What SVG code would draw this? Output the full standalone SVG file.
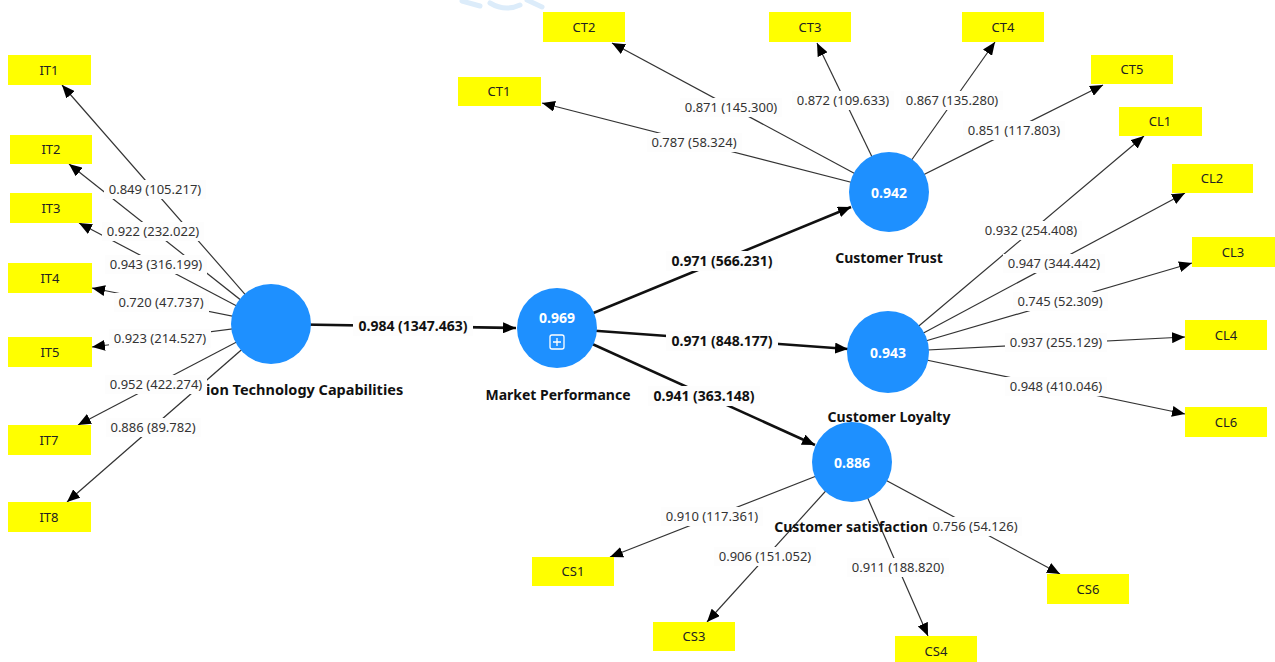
<svg xmlns="http://www.w3.org/2000/svg" width="1275" height="662" viewBox="0 0 1275 662">
  <style>
    .ind rect { fill: #ffff00; }
    .ind text { font-family: "Noto Sans", "Liberation Sans", sans-serif; font-size: 13px; fill: #222; text-anchor: middle; }
    .lv circle { fill: #1e90ff; }
    .val { font-family: "Noto Sans", "Liberation Sans", sans-serif; font-size: 14px; font-weight: bold; fill: #ffffff; text-anchor: middle; }
    .name { font-family: "Noto Sans", "Liberation Sans", sans-serif; font-size: 14px; font-weight: bold; fill: #111; text-anchor: middle; }
    .load { stroke: #333; stroke-width: 1.2; fill: none; marker-end: url(#ah); }
    .path { stroke: #111; stroke-width: 2.6; fill: none; marker-end: url(#ah); }
    .lbl rect { fill: #fdfdfd; }
    .lbl text { font-family: "Noto Sans", "Liberation Sans", sans-serif; font-size: 13px; fill: #333; text-anchor: middle; }
    .lbl text.b { font-size: 14px; font-weight: bold; fill: #111; }
  </style>
  <defs>
    <marker id="ah" markerUnits="userSpaceOnUse" markerWidth="13" markerHeight="11" refX="13" refY="5.5" orient="auto">
      <path d="M0,0 L13,5.5 L0,11 z" fill="#000"/>
    </marker>
  </defs>

  <rect width="1275" height="662" fill="#ffffff"/>

  <!-- faint watermark strokes along the top edge -->
  <path d="M462,1 L480,6 M490,3 Q505,12 520,5 M527,0 L542,7" stroke="#dcecfa" stroke-width="5" fill="none" stroke-linecap="round"/>

  <!-- connectors: drawn from construct centres, circles are painted over them -->
  <g id="connectors">
    <!-- outer loadings: Information Technology Capabilities -->
    <line class="load" x1="271" y1="324" x2="62" y2="85"/>
    <line class="load" x1="271" y1="324" x2="69" y2="164"/>
    <line class="load" x1="271" y1="324" x2="79" y2="223"/>
    <line class="load" x1="271" y1="324" x2="92" y2="288"/>
    <line class="load" x1="271" y1="324" x2="92" y2="347"/>
    <line class="load" x1="271" y1="324" x2="78" y2="425"/>
    <line class="load" x1="271" y1="324" x2="67" y2="502"/>
    <!-- outer loadings: Customer Trust -->
    <line class="load" x1="889" y1="192" x2="542" y2="103"/>
    <line class="load" x1="889" y1="192" x2="612" y2="43"/>
    <line class="load" x1="889" y1="192" x2="817" y2="43"/>
    <line class="load" x1="889" y1="192" x2="995" y2="42"/>
    <line class="load" x1="889" y1="192" x2="1103" y2="85"/>
    <!-- outer loadings: Customer Loyalty -->
    <line class="load" x1="888" y1="352" x2="1144" y2="136"/>
    <line class="load" x1="888" y1="352" x2="1185" y2="193"/>
    <line class="load" x1="888" y1="352" x2="1192" y2="263"/>
    <line class="load" x1="888" y1="352" x2="1185" y2="337"/>
    <line class="load" x1="888" y1="352" x2="1185" y2="414"/>
    <!-- outer loadings: Customer satisfaction -->
    <line class="load" x1="852" y1="462" x2="610" y2="557"/>
    <line class="load" x1="852" y1="462" x2="707" y2="622"/>
    <line class="load" x1="852" y1="462" x2="928" y2="636"/>
    <line class="load" x1="852" y1="462" x2="1060" y2="574"/>
    <!-- structural paths -->
    <line class="path" x1="271" y1="324" x2="516" y2="328"/>
    <line class="path" x1="557" y1="328" x2="851" y2="207"/>
    <line class="path" x1="557" y1="328" x2="848" y2="349"/>
    <line class="path" x1="557" y1="328" x2="815" y2="445"/>
  </g>

  <!-- constructs -->
  <g id="it-capabilities" class="lv">
    <circle cx="271" cy="324" r="40"/>
    <text class="name" x="206" y="395" style="text-anchor:start;font-size:14.5px">ion Technology Capabilities</text>
  </g>
  <g id="market-performance" class="lv">
    <circle cx="557" cy="328" r="40"/>
    <text class="val" x="557" y="323">0.969</text>
    <rect x="550" y="335" width="14" height="14" rx="2" fill="none" stroke="#ffffff" stroke-width="1.3"/>
    <path d="M557,338 V346 M553,342 H561" stroke="#ffffff" stroke-width="1.3"/>
    <text class="name" x="558" y="400">Market Performance</text>
  </g>
  <g id="customer-trust" class="lv">
    <circle cx="889" cy="192" r="40"/>
    <text class="val" x="889" y="198">0.942</text>
    <text class="name" x="889" y="263">Customer Trust</text>
  </g>
  <g id="customer-loyalty" class="lv">
    <circle cx="888" cy="352" r="41"/>
    <text class="val" x="888" y="358">0.943</text>
    <text class="name" x="889" y="422">Customer Loyalty</text>
  </g>
  <g id="customer-satisfaction" class="lv">
    <circle cx="852" cy="462" r="40"/>
    <text class="val" x="852" y="468">0.886</text>
    <text class="name" x="851" y="532">Customer satisfaction</text>
  </g>

  <!-- indicators -->
  <g id="IT1" class="ind"><rect x="8" y="55" width="83" height="30"/><text x="49" y="75">IT1</text></g>
  <g id="IT2" class="ind"><rect x="10" y="135" width="82" height="29"/><text x="51" y="154">IT2</text></g>
  <g id="IT3" class="ind"><rect x="10" y="193" width="82" height="30"/><text x="51" y="213">IT3</text></g>
  <g id="IT4" class="ind"><rect x="8" y="263" width="84" height="30"/><text x="50" y="283">IT4</text></g>
  <g id="IT5" class="ind"><rect x="8" y="337" width="84" height="30"/><text x="50" y="357">IT5</text></g>
  <g id="IT7" class="ind"><rect x="8" y="425" width="83" height="30"/><text x="49" y="445">IT7</text></g>
  <g id="IT8" class="ind"><rect x="8" y="502" width="83" height="30"/><text x="49" y="522">IT8</text></g>

  <g id="CT1" class="ind"><rect x="458" y="77" width="83" height="29"/><text x="499" y="96">CT1</text></g>
  <g id="CT2" class="ind"><rect x="543" y="12" width="82" height="30"/><text x="584" y="32">CT2</text></g>
  <g id="CT3" class="ind"><rect x="769" y="12" width="82" height="30"/><text x="810" y="32">CT3</text></g>
  <g id="CT4" class="ind"><rect x="962" y="12" width="82" height="30"/><text x="1003" y="32">CT4</text></g>
  <g id="CT5" class="ind"><rect x="1091" y="55" width="82" height="29"/><text x="1132" y="74">CT5</text></g>

  <g id="CL1" class="ind"><rect x="1119" y="107" width="83" height="29"/><text x="1160" y="126">CL1</text></g>
  <g id="CL2" class="ind"><rect x="1172" y="164" width="81" height="29"/><text x="1212" y="183">CL2</text></g>
  <g id="CL3" class="ind"><rect x="1192" y="237" width="83" height="30"/><text x="1233" y="257">CL3</text></g>
  <g id="CL4" class="ind"><rect x="1185" y="320" width="82" height="30"/><text x="1226" y="340">CL4</text></g>
  <g id="CL6" class="ind"><rect x="1185" y="407" width="82" height="30"/><text x="1226" y="427">CL6</text></g>

  <g id="CS1" class="ind"><rect x="532" y="557" width="82" height="29"/><text x="573" y="576">CS1</text></g>
  <g id="CS3" class="ind"><rect x="653" y="622" width="82" height="29"/><text x="694" y="641">CS3</text></g>
  <g id="CS4" class="ind"><rect x="895" y="636" width="82" height="30"/><text x="936" y="656">CS4</text></g>
  <g id="CS6" class="ind"><rect x="1047" y="574" width="82" height="30"/><text x="1088" y="594">CS6</text></g>

  <!-- coefficient labels -->
  <g id="edge-labels" class="lbl">
    <rect x="104" y="180" width="102" height="19"/><text x="155" y="194">0.849 (105.217)</text>
    <rect x="102" y="222" width="102" height="19"/><text x="153" y="236">0.922 (232.022)</text>
    <rect x="105" y="255" width="102" height="19"/><text x="156" y="269">0.943 (316.199)</text>
    <rect x="114" y="293" width="95" height="19"/><text x="161" y="307">0.720 (47.737)</text>
    <rect x="109" y="329" width="102" height="19"/><text x="160" y="343">0.923 (214.527)</text>
    <rect x="105" y="375" width="102" height="19"/><text x="156" y="389">0.952 (422.274)</text>
    <rect x="106" y="418" width="95" height="19"/><text x="153" y="432">0.886 (89.782)</text>

    <rect x="353" y="316" width="120" height="20"/><text class="b" x="413" y="331">0.984 (1347.463)</text>
    <rect x="666" y="251" width="112" height="20"/><text class="b" x="722" y="266">0.971 (566.231)</text>
    <rect x="666" y="331" width="112" height="20"/><text class="b" x="722" y="346">0.971 (848.177)</text>
    <rect x="648" y="386" width="112" height="20"/><text class="b" x="704" y="401">0.941 (363.148)</text>

    <rect x="647" y="133" width="95" height="19"/><text x="694" y="147">0.787 (58.324)</text>
    <rect x="680" y="98" width="102" height="19"/><text x="731" y="112">0.871 (145.300)</text>
    <rect x="792" y="91" width="102" height="19"/><text x="843" y="105">0.872 (109.633)</text>
    <rect x="901" y="91" width="102" height="19"/><text x="952" y="105">0.867 (135.280)</text>
    <rect x="963" y="121" width="102" height="19"/><text x="1014" y="135">0.851 (117.803)</text>

    <rect x="980" y="221" width="102" height="19"/><text x="1031" y="235">0.932 (254.408)</text>
    <rect x="1003" y="254" width="102" height="19"/><text x="1054" y="268">0.947 (344.442)</text>
    <rect x="1013" y="292" width="95" height="19"/><text x="1060" y="306">0.745 (52.309)</text>
    <rect x="1005" y="333" width="102" height="19"/><text x="1056" y="347">0.937 (255.129)</text>
    <rect x="1005" y="377" width="102" height="19"/><text x="1056" y="391">0.948 (410.046)</text>

    <rect x="661" y="507" width="102" height="19"/><text x="712" y="521">0.910 (117.361)</text>
    <rect x="714" y="547" width="102" height="19"/><text x="765" y="561">0.906 (151.052)</text>
    <rect x="847" y="558" width="102" height="19"/><text x="898" y="572">0.911 (188.820)</text>
    <rect x="928" y="517" width="94" height="19"/><text x="975" y="531">0.756 (54.126)</text>
  </g>
</svg>
